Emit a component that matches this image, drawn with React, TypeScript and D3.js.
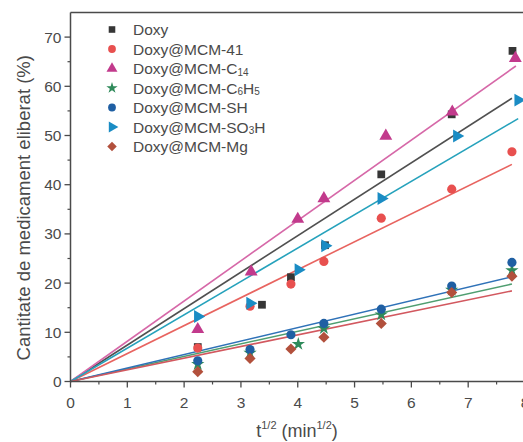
import React from "react";
import * as d3 from "d3";

// Release time points, sqrt(min)
const xDoxy = [2.24, 3.37, 3.88, 4.48, 5.47, 6.71, 7.78];
const yDoxy = [7.0, 15.6, 21.2, 27.7, 42.1, 54.3, 67.2];

const x41 = [2.24, 3.16, 3.88, 4.46, 5.47, 6.71, 7.77];
const y41 = [6.8, 15.3, 19.8, 24.4, 33.2, 39.1, 46.7];

const xC14 = [2.24, 3.18, 4.0, 4.46, 5.55, 6.72, 7.83];
const yC14 = [10.6, 22.3, 33.0, 37.2, 49.9, 54.8, 65.7];

const xC6H5 = [2.24, 3.16, 4.01, 4.46, 5.47, 6.71, 7.77];
const yC6H5 = [3.5, 5.8, 7.6, 10.8, 13.6, 18.6, 22.6];

const xSH = [2.24, 3.16, 3.88, 4.46, 5.47, 6.71, 7.77];
const ySH = [4.2, 6.5, 9.5, 11.8, 14.7, 19.4, 24.2];

const xSO3H = [2.24, 3.16, 4.01, 4.48, 5.47, 6.8, 7.88];
const ySO3H = [13.2, 15.9, 22.7, 27.6, 37.2, 49.9, 57.2];

const xMg = [2.24, 3.16, 3.88, 4.46, 5.47, 6.71, 7.77];
const yMg = [2.0, 4.7, 6.6, 9.0, 11.8, 18.1, 21.4];

// Higuchi fits (through the origin): slope and end of each fitted line
const seriesNames = [
  "Doxy",
  "Doxy@MCM-41",
  "Doxy@MCM-C14",
  "Doxy@MCM-C6H5",
  "Doxy@MCM-SH",
  "Doxy@MCM-SO3H",
  "Doxy@MCM-Mg",
];
const fitSlopes = [7.41, 5.68, 8.18, 2.55, 2.74, 6.78, 2.37];
const fitEnds = [7.77, 7.77, 7.84, 7.77, 7.77, 7.88, 7.77];

const xTicks = [0, 1, 2, 3, 4, 5, 6, 7, 8];
const yTicks = [0, 10, 20, 30, 40, 50, 60, 70];

const markerColors = ["#363636", "#e8504f", "#c23a8c", "#2f8a5a", "#1f5fa3", "#1a8cc4", "#b2503c"];
const lineColors = ["#505050", "#e86460", "#d668a8", "#4f9e70", "#2f72b8", "#26a2bc", "#d2585f"];

const W = 523;
const H = 442;
const left = 70.5;
const right = 525;
const top = 12.5;
const bottom = 381.5;

type Shape = "square" | "circle" | "triangle" | "star" | "hexagon" | "tri-right" | "diamond";
const shapes: Shape[] = ["square", "circle", "triangle", "star", "circle", "tri-right", "diamond"];

function symbolPath(shape: Shape): { d: string; rot: number } {
  switch (shape) {
    case "square":
      return { d: d3.symbol(d3.symbolSquare, 60)() as string, rot: 0 };
    case "circle":
      return { d: d3.symbol(d3.symbolCircle, 66)() as string, rot: 0 };
    case "triangle":
      return { d: d3.symbol(d3.symbolTriangle, 72)() as string, rot: 0 };
    case "star":
      return { d: d3.symbol(d3.symbolStar, 55)() as string, rot: 0 };
    case "tri-right":
      return { d: d3.symbol(d3.symbolTriangle, 72)() as string, rot: 90 };
    case "diamond":
      return { d: d3.symbol(d3.symbolSquare, 62)() as string, rot: 45 };
    default:
      return { d: d3.symbol(d3.symbolCircle, 66)() as string, rot: 0 };
  }
}

function SubLabel({ base, sub }: { base: string; sub: string }) {
  return (
    <>
      {base}
      <tspan fontSize={10} dy={3}>
        {sub}
      </tspan>
      <tspan dy={-3}></tspan>
    </>
  );
}

export default function App() {
  const x = d3.scaleLinear().domain([0, 8]).range([left, right]);
  const y = d3.scaleLinear().domain([0, 75]).range([bottom, top]);

  const xs = [xDoxy, x41, xC14, xC6H5, xSH, xSO3H, xMg];
  const ys = [yDoxy, y41, yC14, yC6H5, ySH, ySO3H, yMg];

  const line = d3
    .line<[number, number]>()
    .x((d) => x(d[0]))
    .y((d) => y(d[1]));

  const xMinor = d3.range(0.5, 8, 1);
  const yMinor = d3.range(5, 75, 10);

  const axisColor = "#4a4a4a";
  const textColor = "#4a4a4a";
  const font = "'Liberation Sans', Arial, sans-serif";

  const legendX = 112;
  const legendY0 = 29.5;
  const legendDy = 19.5;

  const legendLabels: React.ReactNode[] = [
    "Doxy",
    "Doxy@MCM-41",
    <SubLabel key="c14" base="Doxy@MCM-C" sub="14" />,
    <>
      Doxy@MCM-C
      <tspan fontSize={10} dy={3}>6</tspan>
      <tspan dy={-3}>H</tspan>
      <tspan fontSize={10} dy={3}>5</tspan>
    </>,
    "Doxy@MCM-SH",
    <>
      Doxy@MCM-SO
      <tspan fontSize={10} dy={3}>3</tspan>
      <tspan dy={-3}>H</tspan>
    </>,
    "Doxy@MCM-Mg",
  ];

  return (
    <svg
      width={W}
      height={H}
      style={{ position: "absolute", left: 0, top: 0, background: "#fff" }}
      fontFamily={font}
    >
      <rect x={0} y={0} width={W} height={H} fill="#fff" />

      {/* fitted lines */}
      {fitSlopes.map((k, i) => (
        <path
          key={"fit" + i}
          d={line([
            [0, 0],
            [fitEnds[i], k * fitEnds[i]],
          ]) as string}
          stroke={lineColors[i]}
          strokeWidth={1.6}
          fill="none"
        />
      ))}

      {/* data markers */}
      {xs.map((xv, i) => {
        const { d, rot } = symbolPath(shapes[i]);
        return (
          <g key={"s" + i} fill={markerColors[i]}>
            {xv.map((xx, j) => (
              <path
                key={j}
                d={d}
                transform={`translate(${x(xx)},${y(ys[i][j])}) rotate(${rot})`}
              />
            ))}
          </g>
        );
      })}

      {/* frame: top edge */}
      <line x1={left} x2={W} y1={top} y2={top} stroke={axisColor} strokeWidth={1.3} />

      {/* y axis */}
      <line x1={left} x2={left} y1={top} y2={bottom + 0.5} stroke={axisColor} strokeWidth={1.5} />
      {yTicks.map((t) => (
        <g key={"yt" + t}>
          <line x1={left - 6} x2={left} y1={y(t)} y2={y(t)} stroke={axisColor} strokeWidth={1.3} />
          <text
            x={left - 9}
            y={y(t)}
            textAnchor="end"
            dominantBaseline="central"
            fontSize={15.5}
            fill={textColor}
          >
            {t}
          </text>
        </g>
      ))}
      {yMinor.map((t) => (
        <line key={"ym" + t} x1={left - 3} x2={left} y1={y(t)} y2={y(t)} stroke={axisColor} strokeWidth={1.2} />
      ))}

      {/* x axis */}
      <line x1={left} x2={W} y1={bottom} y2={bottom} stroke={axisColor} strokeWidth={1.5} />
      {xTicks.map((t) => (
        <g key={"xt" + t}>
          <line x1={x(t)} x2={x(t)} y1={bottom} y2={bottom + 6} stroke={axisColor} strokeWidth={1.3} />
          <text x={x(t)} y={bottom + 26} textAnchor="middle" fontSize={15.5} fill={textColor}>
            {t}
          </text>
        </g>
      ))}
      {xMinor.map((t) => (
        <line key={"xm" + t} x1={x(t)} x2={x(t)} y1={bottom} y2={bottom + 3} stroke={axisColor} strokeWidth={1.2} />
      ))}

      {/* axis titles */}
      <text
        transform={`translate(23,${(bottom + 30) / 2 + 2}) rotate(-90)`}
        textAnchor="middle"
        dominantBaseline="central"
        fontSize={18.5}
        fill={textColor}
      >
        Cantitate de medicament eliberat (%)
      </text>
      <text x={297} y={437} textAnchor="middle" fontSize={18} fill={textColor}>
        t
        <tspan fontSize={11} dy={-8}>1/2</tspan>
        <tspan dy={8}> (min</tspan>
        <tspan fontSize={11} dy={-8}>1/2</tspan>
        <tspan dy={8}>)</tspan>
      </text>

      {/* legend */}
      {seriesNames.map((name, i) => {
        const { d, rot } = symbolPath(shapes[i]);
        const cy = legendY0 + i * legendDy;
        return (
          <g key={"lg" + name}>
            <path
              d={d}
              fill={markerColors[i]}
              transform={`translate(${legendX},${cy}) rotate(${rot}) scale(0.85)`}
            />
            <text
              x={133}
              y={cy}
              dominantBaseline="central"
              fontSize={15.5}
              fill={textColor}
            >
              {legendLabels[i]}
            </text>
          </g>
        );
      })}
    </svg>
  );
}
